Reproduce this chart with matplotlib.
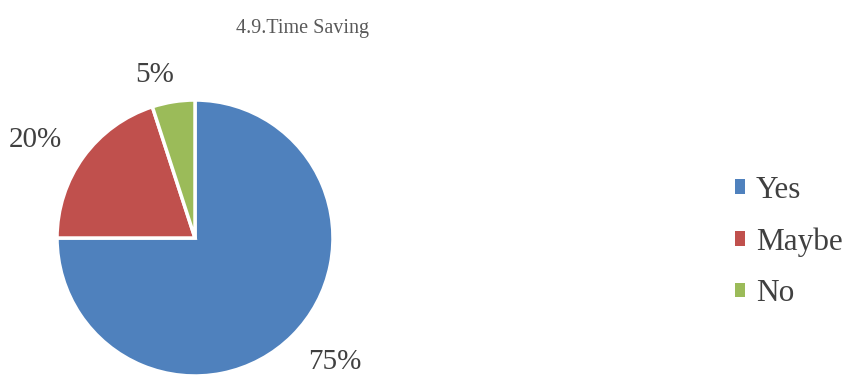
import matplotlib.pyplot as plt
from matplotlib.patches import Patch

plt.rcParams['font.family'] = ['Liberation Serif', 'DejaVu Serif']

categories = ['Yes', 'Maybe', 'No']
shares = [75, 20, 5]
colors = ['#4F81BD', '#C0504D', '#9BBB59']
# label positions relative to pie centre (radius = 1)
label_pos = [(1.01, -0.90), (-1.16, 0.71), (-0.29, 1.18)]

fig = plt.figure(figsize=(8.46, 3.76), dpi=100)
ax = fig.add_axes([0.0674, 0.0, 0.3262, 0.734])

wedges, _ = ax.pie(shares, colors=colors, startangle=90, counterclock=False,
                   wedgeprops=dict(edgecolor='white', linewidth=2.5))
ax.set_xlim(-1, 1)
ax.set_ylim(-1, 1)
ax.set_aspect('equal')
ax.axis('off')

for val, (x, y) in zip(shares, label_pos):
    ax.text(x, y, f"{val}%", ha='center', va='center', fontsize=21,
            color='#404040', clip_on=False)

fig.text(0.357, 0.925, '4.9.Time Saving', ha='center', va='center',
         fontsize=14.5, color='#595959')

handles = [Patch(facecolor=c, edgecolor='none') for c in colors]
fig.legend(handles, categories, loc='center left', bbox_to_anchor=(0.835, 0.356),
           frameon=False, fontsize=22.5, handlelength=0.33, handleheight=0.33,
           handletextpad=0.35, labelspacing=0.72, labelcolor='#404040')

fig.savefig('out.png', dpi=100)
